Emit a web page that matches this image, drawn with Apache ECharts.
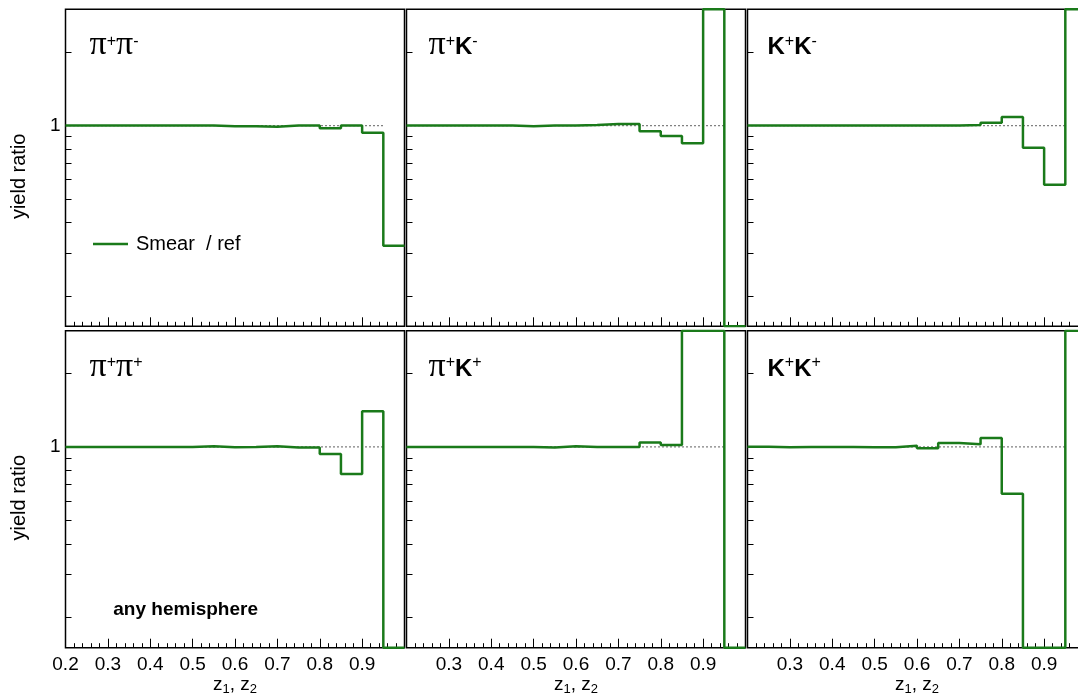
<!DOCTYPE html>
<html>
<head>
<meta charset="utf-8">
<script src="https://cdn.jsdelivr.net/npm/echarts@6/dist/echarts.min.js"></script>
<style>
  html, body { margin: 0; padding: 0; background: #ffffff; }
  #chart { width: 1078px; height: 700px; }
</style>
</head>
<body>
<div id="chart"></div>
<script>
// Bin edges in z (16 bins of width 0.05)
const binEdges = [0.20, 0.25, 0.30, 0.35, 0.40, 0.45, 0.50, 0.55, 0.60,
                  0.65, 0.70, 0.75, 0.80, 0.85, 0.90, 0.95, 1.00];

// Smeared / reference yield ratio per bin (values at the axis limits are off-scale)
const ratioPipPim = [1.000, 1.000, 1.000, 1.000, 1.000, 1.000, 1.000, 0.994,
                     0.994, 0.989, 1.000, 1.000, 0.975, 1.000, 0.934, 0.321];
const ratioPipKm  = [1.000, 1.000, 1.000, 1.000, 1.000, 0.994, 1.000, 1.000,
                     1.006, 1.015, 1.015, 0.948, 0.907, 0.845, 3.000, 0.150];
const ratioKpKm   = [1.000, 1.000, 1.000, 1.000, 1.000, 1.000, 1.000, 1.000,
                     1.000, 1.000, 1.006, 1.028, 1.085, 0.810, 0.572, 3.000];
const ratioPipPip = [1.000, 1.000, 1.000, 1.000, 1.000, 1.000, 1.006, 0.997,
                     1.000, 1.006, 0.994, 0.994, 0.936, 0.775, 1.400, 0.150];
const ratioPipKp  = [1.000, 1.000, 1.000, 1.000, 1.000, 1.000, 0.994, 1.006,
                     1.000, 1.000, 1.000, 1.042, 1.019, 3.000, 3.000, 0.150];
const ratioKpKp   = [1.003, 0.997, 1.000, 1.000, 1.000, 0.997, 0.997, 1.012,
                     0.988, 1.039, 1.026, 1.088, 0.643, 0.150, 0.150, 3.000];

// Unity reference line extent
const unityLine = [[0.20, 1], [0.95, 1]];

// Axis ranges and tick values
const xRange = [0.2, 1.0];
const yRange = [0.15, 3];
const xLabelsFirstCol = [0.2, 0.3, 0.4, 0.5, 0.6, 0.7, 0.8, 0.9];
const xLabelsOtherCol = [0.3, 0.4, 0.5, 0.6, 0.7, 0.8, 0.9];
const yTickValues = [0.2, 0.3, 0.4, 0.5, 0.6, 0.7, 0.8, 0.9, 1, 2, 3];
const yLabelValues = [1];

// Panel titles (rich text) and their data
const panelTitles = [
  '{p|π}{s|+}{p|π}{s|-}', '{p|π}{s|+}{k|K}{s|-}', '{k|K}{s|+}{k|K}{s|-}',
  '{p|π}{s|+}{p|π}{s|+}', '{p|π}{s|+}{k|K}{s|+}', '{k|K}{s|+}{k|K}{s|+}'
];
const panelValues = [ratioPipPim, ratioPipKm, ratioKpKm, ratioPipPip, ratioPipKp, ratioKpKp];

const seriesName = 'Smear  / ref';
const yTitle = 'yield ratio';
const xTitle = '{z|z}{sub|1}{z|, z}{sub|2}';
const noteText = 'any hemisphere';

// ---- layout & style ----
const GREEN = '#1a7a1a';
const FONT = 'Liberation Sans, Arial, Helvetica, sans-serif';
const colLeft = [65.5, 406.5, 747.5];
const rowTop = [9.3, 330.7];
const panelW = 339;
const panelH = 317;
const titleDx = [24, 22, 20];

const chart = echarts.init(document.getElementById('chart'), null, { renderer: 'canvas' });

const grids = [], xAxes = [], yAxes = [], series = [], graphics = [];
const titleRich = {
  p: { fontFamily: 'Liberation Serif, Times New Roman, serif', fontSize: 34, color: '#000', padding: [0, 0, 5, 0] },
  k: { fontFamily: FONT, fontWeight: 'bold', fontSize: 24, color: '#000' },
  s: { fontFamily: FONT, fontSize: 16, color: '#000', padding: [0, 0, 13, 0] }
};

for (let i = 0; i < 6; i++) {
  const row = Math.floor(i / 3), col = i % 3;
  grids.push({
    left: colLeft[col], top: rowTop[row], width: panelW, height: panelH,
    show: true, borderColor: '#000', borderWidth: 1.5, backgroundColor: 'transparent',
    containLabel: false, outerBoundsMode: 'none'
  });
  xAxes.push({
    type: 'value', gridIndex: i, min: xRange[0], max: xRange[1], interval: 0.1,
    axisLine: { show: false },
    axisTick: { show: true, inside: true, length: 9, lineStyle: { color: '#000', width: 1 } },
    minorTick: { show: true, splitNumber: 5, length: 4.5, lineStyle: { color: '#000', width: 1 } },
    splitLine: { show: false }, minorSplitLine: { show: false },
    axisLabel: row === 1 ? {
      show: true, customValues: col === 0 ? xLabelsFirstCol : xLabelsOtherCol,
      formatter: v => Number(v).toFixed(1),
      fontFamily: FONT, fontSize: 19, color: '#000', margin: 8
    } : { show: false },
    name: row === 1 ? xTitle : '',
    nameLocation: 'middle', nameGap: 24,
    nameTextStyle: {
      rich: {
        z: { fontFamily: FONT, fontSize: 19, color: '#000' },
        sub: { fontFamily: FONT, fontSize: 13, color: '#000', padding: [9, 0, 0, 0] }
      }
    }
  });
  yAxes.push({
    type: 'log', logBase: 10, gridIndex: i, min: yRange[0], max: yRange[1],
    axisLine: { show: false },
    axisTick: { show: true, inside: true, length: 6, customValues: yTickValues,
                lineStyle: { color: '#000', width: 1 } },
    axisLabel: col === 0 ? {
      show: true, customValues: yLabelValues, formatter: v => String(Math.round(v)),
      fontFamily: FONT, fontSize: 19, color: '#000', margin: 5
    } : { show: false },
    splitLine: { show: false }
  });
  series.push({
    type: 'line', name: 'unity', xAxisIndex: i, yAxisIndex: i, data: unityLine,
    symbol: 'none', silent: true, z: 2,
    lineStyle: { color: '#000', width: 1.2, type: [1, 3] }
  });
  const vals = panelValues[i];
  series.push({
    type: 'line', name: seriesName, xAxisIndex: i, yAxisIndex: i, step: 'end',
    symbol: 'none', z: 3, clip: true,
    data: binEdges.map((e, j) => [e, vals[Math.min(j, vals.length - 1)]]),
    lineStyle: { color: GREEN, width: 2.5 }, itemStyle: { color: GREEN }
  });
  graphics.push({
    type: 'text', x: colLeft[col] + titleDx[col], y: rowTop[row] + 38.5,
    style: { text: panelTitles[i], rich: titleRich, verticalAlign: 'middle', align: 'left' }
  });
}

// y-axis titles
for (let r = 0; r < 2; r++) {
  graphics.push({
    type: 'text', x: 19.5, y: rowTop[r] + 167, rotation: Math.PI / 2,
    style: { text: yTitle, fontFamily: FONT, fontSize: 20, fill: '#000',
             align: 'center', verticalAlign: 'middle' }
  });
}
graphics.push({
  type: 'text', x: 113.3, y: 610,
  style: { text: noteText, fontFamily: FONT, fontSize: 19, fontWeight: 'bold', fill: '#000',
           align: 'left', verticalAlign: 'middle' }
});

chart.setOption({
  animation: false,
  grid: grids,
  xAxis: xAxes,
  yAxis: yAxes,
  series: series,
  graphic: graphics,
  legend: {
    data: [{ name: seriesName, icon: 'rect' }], left: 93, top: 234, padding: 0, selectedMode: false,
    itemWidth: 35, itemHeight: 2.5,
    textStyle: { fontFamily: FONT, fontSize: 20, color: '#000', padding: [0, 0, 0, 3] }
  }
});
</script>
</body>
</html>
